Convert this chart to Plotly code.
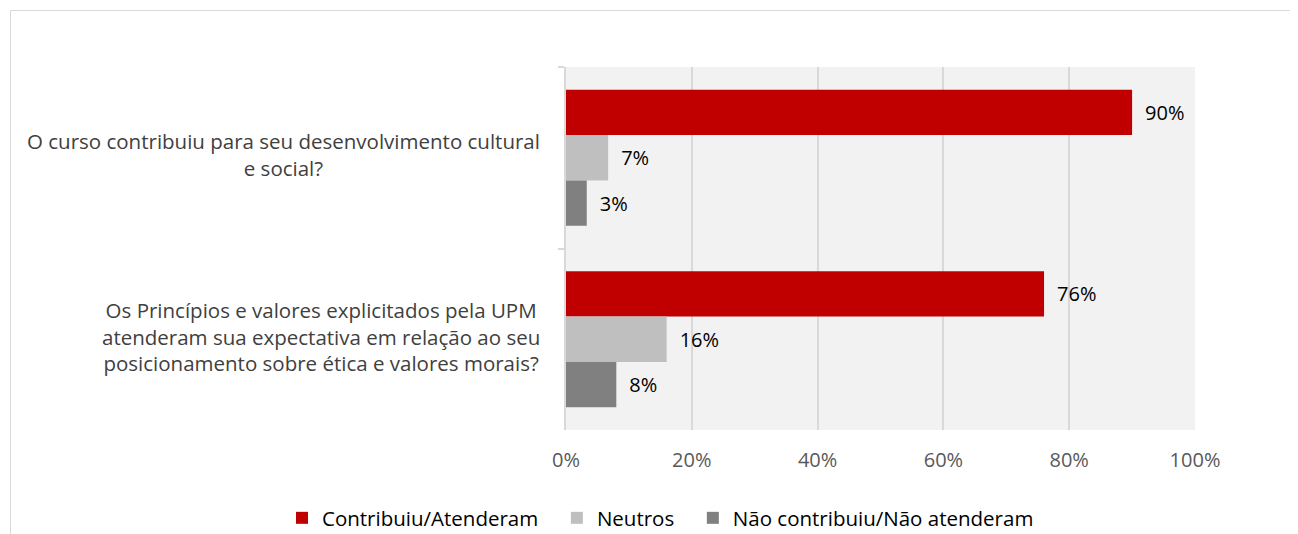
import plotly.graph_objects as go

categories = [
    "O curso contribuiu para seu desenvolvimento cultural<br>e social?",
    "Os Princípios e valores explicitados pela UPM<br>atenderam sua expectativa em relação ao seu<br>posicionamento sobre ética e valores morais?",
]
series_names = ["Contribuiu/Atenderam", "Neutros", "Não contribuiu/Não atenderam"]
contribuiu = [90, 76]
neutros = [6.7, 16]
nao_contribuiu = [3.3, 8]
colors = ["#C00000", "#BFBFBF", "#808080"]
x_ticks = [0, 20, 40, 60, 80, 100]
x_tick_labels = ["0%", "20%", "40%", "60%", "80%", "100%"]

# the page has an 8px body margin: figure is sized/offset to compensate
OFF = 8
W, H = 1298 - OFF, 534 - OFF
L, T = 566 - OFF, 67 - OFF
pw, ph = 629, 363
R, B = W - L - pw, H - T - ph

FONT = "Open Sans"
LABEL_SIZE = 20.5
LEGEND_PAD = ["\u2002\u2009", "\u2002\u2009", ""]


def px_x(px):
    """page pixel x -> paper x"""
    return (px - OFF - L) / pw


def px_y(py):
    """page pixel y -> paper y"""
    return (T + ph - (py - OFF)) / ph


fig = go.Figure()
for name, pad, vals, col in zip(series_names, LEGEND_PAD,
                                [contribuiu, neutros, nao_contribuiu], colors):
    fig.add_trace(go.Bar(
        y=categories, x=vals, name=name + pad, orientation="h",
        marker=dict(color=col, line=dict(width=0)),
        text=vals, texttemplate="\u2002%{x:.0f}%", textposition="outside",
        textfont=dict(family=FONT, size=20, color="#000000", weight=500),
        cliponaxis=False,
    ))

# category labels: right-aligned block, lines centred within it
annotations = []
for cat in categories:
    annotations.append(dict(
        x=px_x(542), xref="paper", y=cat, yref="y", text=cat,
        showarrow=False, xanchor="right", yanchor="middle", align="center",
        yshift=3,
        font=dict(family=FONT, size=LABEL_SIZE, color="#404040"),
    ))

fig.add_shape(type="rect", xref="paper", yref="paper",
              x0=px_x(10.5), x1=px_x(1320),
              y0=px_y(580), y1=px_y(10.5),
              line=dict(color="#D9D9D9", width=1), fillcolor="rgba(0,0,0,0)", layer="below")

fig.update_layout(
    width=W, height=H,
    margin=dict(l=L, r=R, t=T, b=B, pad=0, autoexpand=False),
    barmode="group", bargap=0.25, bargroupgap=0,
    plot_bgcolor="#F2F2F2", paper_bgcolor="#FFFFFF",
    showlegend=True,
    legend=dict(orientation="h", xref="paper", yref="paper",
                x=px_x(282), xanchor="left",
                y=px_y(518), yanchor="middle",
                font=dict(family=FONT, size=20.5, color="#000000"),
                itemwidth=30, traceorder="normal"),
    annotations=annotations,
    xaxis=dict(range=[0, 100], tickmode="array", tickvals=x_ticks, ticktext=x_tick_labels,
               showgrid=True, gridcolor="#D9D9D9", gridwidth=2,
               zeroline=False, showline=False, ticks="", ticklabelstandoff=16,
               tickfont=dict(family=FONT, size=20, color="#595959")),
    yaxis=dict(autorange="reversed", showticklabels=False, showgrid=False,
               showline=True, linecolor="#D9D9D9", linewidth=2,
               ticks="outside", tickson="boundaries", ticklen=6, tickcolor="#D9D9D9",
               tickwidth=2),
)

fig.write_html("out.html")
